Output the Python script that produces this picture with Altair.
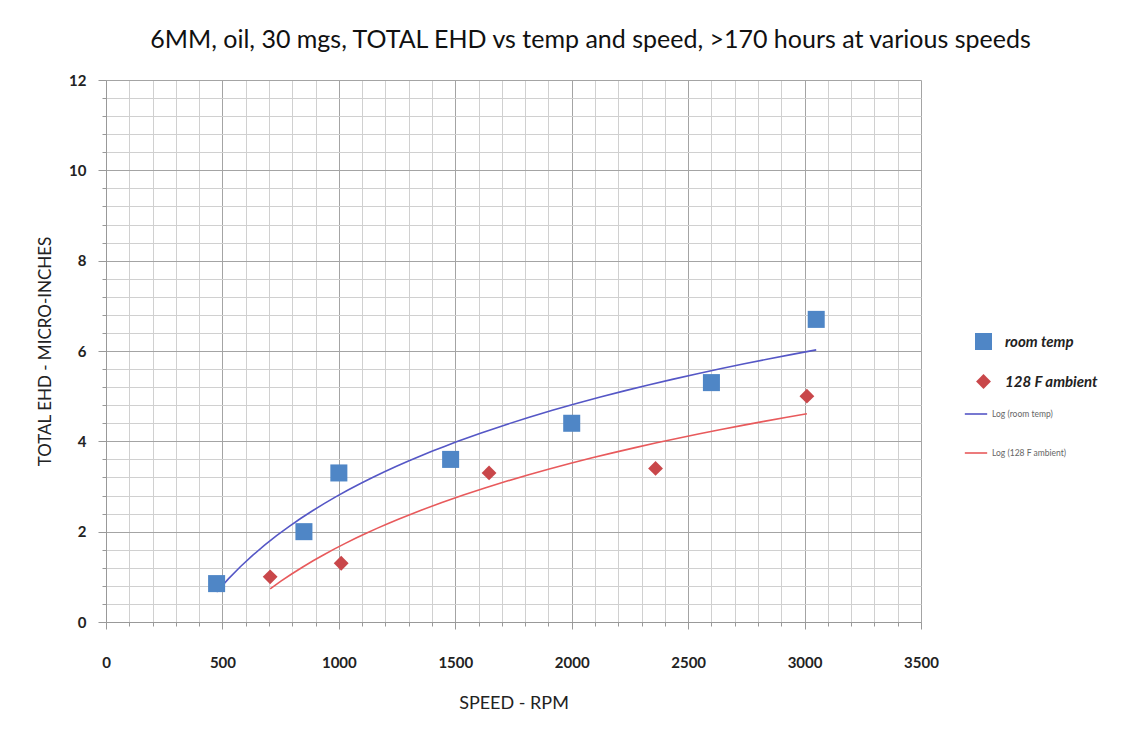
import altair as alt
import pandas as pd

# ---- data ----
series_names = ["room temp", "128 F ambient"]
fit_names = ["Log (room temp)", "Log (128 F ambient)"]

room_speed = [475, 850, 1000, 1480, 2000, 2600, 3050]
room_ehd = [0.85, 2.0, 3.3, 3.6, 4.4, 5.3, 6.7]

amb_speed = [705, 1010, 1645, 2360, 3010]
amb_ehd = [1.0, 1.3, 3.3, 3.4, 5.0]

x_ticks = list(range(0, 3501, 100))
y_ticks = [round(i * 0.4, 1) for i in range(31)]

df = pd.DataFrame({
    "speed": room_speed + amb_speed,
    "ehd": room_ehd + amb_ehd,
    "series": [series_names[0]] * len(room_speed) + [series_names[1]] * len(amb_speed),
})

FONT = "Lato"
MAJOR = "#a4a4a4"
MINOR = "#d0d0d0"

x_axis = alt.Axis(
    values=x_ticks, tickCount=len(x_ticks),
    labelExpr="datum.value % 500 === 0 ? format(datum.value, 'd') : ''",
    labelOverlap=False,
    grid=True,
    gridColor={"condition": {"test": "datum.value % 500 === 0", "value": MAJOR}, "value": MINOR},
    tickColor="#999", tickSize={"condition": {"test": "datum.value % 500 === 0", "value": 7}, "value": 4},
    domainColor="#999",
    labelFont=FONT, labelFontSize=15, labelFontWeight="bold", labelColor="#222",
    labelPadding=26, labelFlush=False,
    title="SPEED - RPM", titleFont=FONT, titleFontSize=18, titleFontWeight="normal",
    titleColor="#222", titlePadding=24,
)
y_axis = alt.Axis(
    values=y_ticks, tickCount=len(y_ticks),
    labelExpr="round(datum.value * 10) % 20 === 0 ? format(datum.value, 'd') : ''",
    labelOverlap=False,
    grid=True,
    gridColor={"condition": {"test": "round(datum.value * 10) % 20 === 0", "value": MAJOR}, "value": MINOR},
    tickColor="#999", tickSize={"condition": {"test": "round(datum.value * 10) % 20 === 0", "value": 8}, "value": 4},
    domainColor="#999",
    labelFont=FONT, labelFontSize=15, labelFontWeight="bold", labelColor="#222",
    labelPadding=12, labelFlush=False,
    title="TOTAL EHD - MICRO-INCHES", titleFont=FONT, titleFontSize=17, titleFontWeight="normal",
    titleColor="#222", titlePadding=14,
)

x_enc = alt.X("speed:Q", scale=alt.Scale(domain=[0, 3500], nice=False), axis=x_axis)
y_enc = alt.Y("ehd:Q", scale=alt.Scale(domain=[0, 12], nice=False), axis=y_axis)

pt_legend = alt.Legend(
    title=None, orient="none", legendX=868, legendY=252,
    labelFont=FONT, labelFontSize=15, labelFontStyle="italic", labelFontWeight="bold",
    labelColor="#222", rowPadding=22, symbolSize=100, labelOffset=12,
)

points = alt.Chart(df).mark_point(filled=True, opacity=1).encode(
    x=x_enc,
    y=y_enc,
    color=alt.Color(
        "series:N",
        scale=alt.Scale(domain=series_names, range=["#4f86c6", "#c9474a"]),
        legend=pt_legend,
    ),
    shape=alt.Shape(
        "series:N",
        scale=alt.Scale(domain=series_names, range=["square", "diamond"]),
        legend=pt_legend,
    ),
    size=alt.Size("series:N", scale=alt.Scale(domain=series_names, range=[290, 220]), legend=None),
)

lines = alt.Chart(df).transform_regression(
    "speed", "ehd", method="log", groupby=["series"]
).transform_calculate(
    fit="'Log (' + datum.series + ')'"
).mark_line(strokeWidth=1.6).encode(
    x="speed:Q",
    y="ehd:Q",
    color=alt.Color(
        "fit:N",
        scale=alt.Scale(domain=fit_names, range=["#5557c6", "#e85a5c"]),
        legend=alt.Legend(
            title=None, orient="none", legendX=858, legendY=322,
            labelFont=FONT, labelFontSize=8.5, labelColor="#666",
            rowPadding=22, symbolType="stroke", symbolStrokeWidth=1.6, symbolSize=500,
            labelOffset=4,
        ),
    ),
)

chart = alt.layer(lines, points).resolve_scale(
    color="independent", shape="independent", size="independent"
).properties(
    width=815,
    height=542,
    autosize=alt.AutoSizeParams(type="none"),
    padding={"left": 98, "top": 72, "right": 200, "bottom": 90},
    title=alt.TitleParams(
        "6MM, oil, 30 mgs, TOTAL EHD vs temp and speed, >170 hours at various speeds",
        font=FONT, fontSize=25, fontWeight="normal", color="#111", anchor="middle",
        offset=20, dx=77,
    ),
    background="white",
).configure_view(stroke=None)

chart.save("out.html", embed_options={"renderer": "svg", "actions": False})
